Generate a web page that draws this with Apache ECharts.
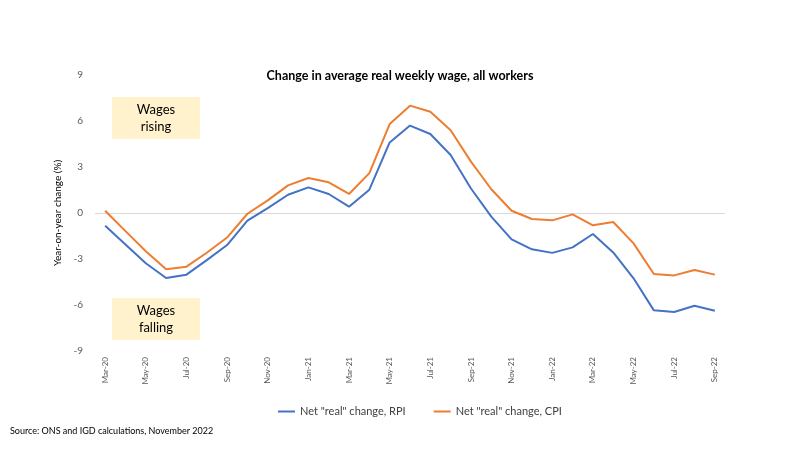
<!DOCTYPE html>
<html>
<head>
<meta charset="utf-8">
<script src="https://cdn.jsdelivr.net/npm/echarts@6/dist/echarts.min.js"></script>
<style>html,body{margin:0;padding:0;background:#fff}#c{width:800px;height:450px}</style>
</head>
<body>
<div id="c"></div>
<script>
const categories = ["Mar-20","Apr-20","May-20","Jun-20","Jul-20","Aug-20","Sep-20","Oct-20","Nov-20","Dec-20",
  "Jan-21","Feb-21","Mar-21","Apr-21","May-21","Jun-21","Jul-21","Aug-21","Sep-21","Oct-21","Nov-21","Dec-21",
  "Jan-22","Feb-22","Mar-22","Apr-22","May-22","Jun-22","Jul-22","Aug-22","Sep-22"];
const rpi = [-0.83,-2.05,-3.28,-4.24,-4.02,-3.07,-2.09,-0.5,0.32,1.19,
  1.67,1.24,0.41,1.52,4.6,5.7,5.15,3.78,1.6,-0.24,-1.72,-2.37,
  -2.6,-2.24,-1.37,-2.57,-4.26,-6.35,-6.46,-6.05,-6.37];
const cpi = [0.15,-1.18,-2.5,-3.67,-3.5,-2.59,-1.6,-0.05,0.82,1.8,
  2.28,2.0,1.24,2.6,5.8,7.0,6.6,5.4,3.35,1.55,0.15,-0.39,
  -0.48,-0.09,-0.8,-0.59,-1.98,-3.98,-4.07,-3.72,-4.02];
const yTicks = {min:-9, max:9, interval:3};
const FONT = 'Lato';
const chart = echarts.init(document.getElementById('c'));
chart.setOption({
  animation:false,
  textStyle:{fontFamily:FONT},
  title:{text:'Change in average real weekly wage, all workers',left:'center',top:64,
    textStyle:{fontSize:12.5,fontWeight:'bold',color:'#000',fontFamily:FONT}},
  grid:{left:95,right:75,top:75,bottom:99,containLabel:false},
  legend:{top:401,left:273,itemWidth:17,itemHeight:2,itemGap:28,icon:'rect',
    textStyle:{fontSize:11,color:'#404040',fontFamily:FONT},
    data:['Net "real" change, RPI','Net "real" change, CPI']},
  xAxis:{type:'category',data:categories,boundaryGap:true,
    axisLine:{show:false},axisTick:{show:false},
    axisLabel:{rotate:90,interval:1,fontSize:8,color:'#595959',margin:6,fontFamily:FONT}},
  yAxis:{type:'value',min:yTicks.min,max:yTicks.max,interval:yTicks.interval,
    splitLine:{show:false},axisLine:{show:false},axisTick:{show:false},
    axisLabel:{fontSize:10,color:'#595959',margin:12,fontFamily:FONT},
    name:'Year-on-year change (%)',nameLocation:'middle',nameGap:27,nameRotate:90,
    nameTextStyle:{fontSize:10,color:'#000',fontFamily:FONT}},
  graphic:[
    {type:'rect',shape:{x:112,y:97,width:88,height:42},style:{fill:'#FFF2CC'},z:1},
    {type:'text',x:156,y:118,style:{text:'Wages\nrising',align:'center',verticalAlign:'middle',fontSize:13,lineHeight:17,fill:'#000',fontFamily:FONT},z:2},
    {type:'rect',shape:{x:112,y:298,width:88,height:42},style:{fill:'#FFF2CC'},z:1},
    {type:'text',x:156,y:319,style:{text:'Wages\nfalling',align:'center',verticalAlign:'middle',fontSize:13,lineHeight:17,fill:'#000',fontFamily:FONT},z:2},
    {type:'text',left:10,top:427,style:{text:'Source: ONS and IGD calculations, November 2022',fontSize:9,fill:'#000',fontFamily:FONT}}
  ],
  series:[
    {name:'Net "real" change, RPI',type:'line',data:rpi,symbol:'none',z:3,
      lineStyle:{color:'#4472C4',width:2},itemStyle:{color:'#4472C4'},
      markLine:{silent:true,symbol:'none',label:{show:false},z:1,
        lineStyle:{color:'#d9d9d9',type:'solid',width:1},data:[{yAxis:0}]}},
    {name:'Net "real" change, CPI',type:'line',data:cpi,symbol:'none',z:3,
      lineStyle:{color:'#ED7D31',width:2},itemStyle:{color:'#ED7D31'}}
  ]
});
</script>
</body>
</html>
